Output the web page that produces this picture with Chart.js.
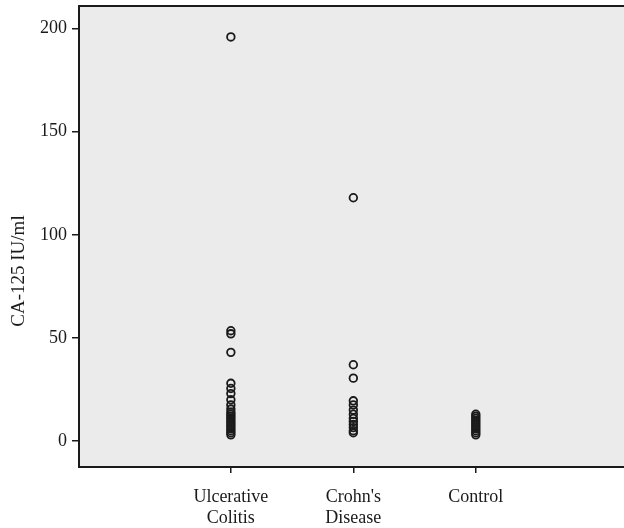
<!DOCTYPE html>
<html>
<head>
<meta charset="utf-8">
<script src="https://cdn.jsdelivr.net/npm/chart.js@4/dist/chart.umd.min.js"></script>
<style>
  html, body { margin: 0; padding: 0; background: #ffffff; }
  #wrap { width: 624px; height: 528px; position: relative; }
</style>
</head>
<body>
<div id="wrap"><canvas id="c" width="624" height="528"></canvas></div>
<script>
// ---- data ----
const categories = [["Ulcerative", "Colitis"], ["Crohn's", "Disease"], ["Control"]];
const ulcerativeColitis = [196, 53.5, 52, 43, 28, 25.5, 23, 20, 17.5, 15.5, 14, 13, 12, 11, 10, 9, 8, 7, 6, 5, 4, 3];
const crohnsDisease = [118, 37, 30.5, 19.5, 17.5, 15, 13, 11, 9.5, 8, 6.5, 5, 4];
const control = [13, 12, 11, 10, 9, 8, 7, 6, 5, 4, 3];
const yTicks = [0, 50, 100, 150, 200];
const yTitle = "CA-125 IU/ml";

const groups = [ulcerativeColitis, crohnsDisease, control];
const points = [];
groups.forEach((arr, i) => arr.forEach(v => points.push({ x: i + 1, y: v })));

const FONT = "'Liberation Serif', 'Times New Roman', serif";

const plotBg = {
  id: 'plotBg',
  beforeDraw(chart) {
    const { ctx, chartArea: a } = chart;
    ctx.save();
    ctx.fillStyle = '#ebebeb';
    ctx.fillRect(a.left, a.top, a.right - a.left, a.bottom - a.top);
    ctx.restore();
  },
  afterDraw(chart) {
    const { ctx, chartArea: a } = chart;
    ctx.save();
    ctx.strokeStyle = '#1a1a1a';
    ctx.lineWidth = 2;
    ctx.beginPath();
    ctx.moveTo(a.left - 1, a.top);
    ctx.lineTo(a.right, a.top);
    ctx.stroke();
    // y title
    ctx.fillStyle = '#1a1a1a';
    ctx.font = "19px " + FONT;
    ctx.textAlign = 'center';
    ctx.textBaseline = 'middle';
    ctx.translate(19, 271);
    ctx.rotate(-Math.PI / 2);
    ctx.fillText(yTitle, 0, 0);
    ctx.restore();
  }
};

new Chart(document.getElementById('c'), {
  type: 'scatter',
  data: {
    datasets: [{
      data: points,
      pointStyle: 'circle',
      pointRadius: 3.8,
      pointBorderWidth: 1.8,
      borderColor: '#1a1a1a',
      backgroundColor: 'rgba(0,0,0,0)'
    }]
  },
  options: {
    responsive: false,
    animation: false,
    layout: { autoPadding: false, padding: { top: 6, left: 0, right: 0, bottom: 0 } },
    plugins: { legend: { display: false }, tooltip: { enabled: false } },
    scales: {
      x: {
        type: 'linear',
        min: -0.24,
        max: 4.21,
        afterBuildTicks(scale) { scale.ticks = [1, 2, 3].map(v => ({ value: v })); },
        afterFit(scale) { scale.height = 61; scale.paddingLeft = 0; scale.paddingRight = 0; },
        ticks: {
          autoSkip: false,
          maxRotation: 0,
          padding: 13,
          color: '#1a1a1a',
          font: { family: FONT, size: 18 },
          callback: (v) => categories[v - 1]
        },
        grid: { display: true, drawOnChartArea: false, drawTicks: true, tickLength: 6, color: '#1a1a1a', lineWidth: 1.5 },
        border: { display: true, color: '#1a1a1a', width: 2 }
      },
      y: {
        min: -12.6,
        max: 211,
        afterBuildTicks(scale) { scale.ticks = yTicks.map(v => ({ value: v })); },
        afterFit(scale) { scale.width = 79; scale.paddingTop = 0; scale.paddingBottom = 0; },
        ticks: {
          padding: 5,
          color: '#1a1a1a',
          font: { family: FONT, size: 18 }
        },
        grid: { display: true, drawOnChartArea: false, drawTicks: true, tickLength: 7, color: '#1a1a1a', lineWidth: 1.5 },
        border: { display: true, color: '#1a1a1a', width: 2 }
      }
    }
  },
  plugins: [plotBg]
});
</script>
</body>
</html>
